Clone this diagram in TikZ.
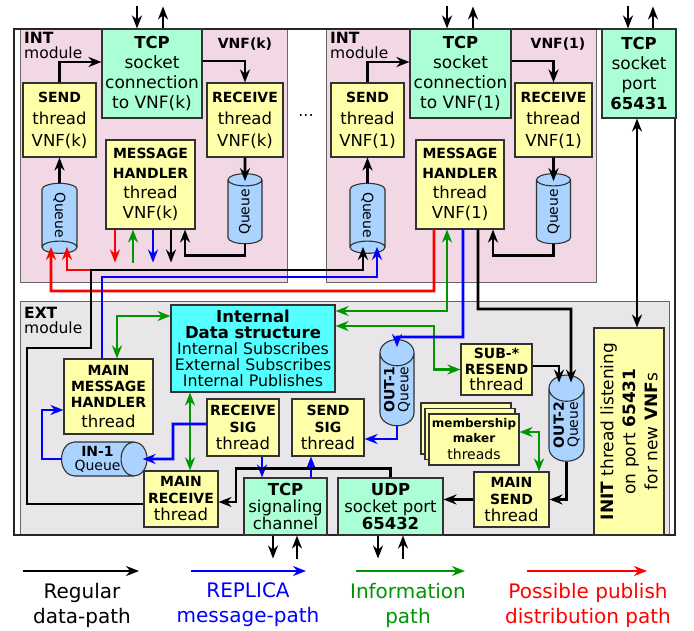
\documentclass[tikz,border=0pt]{standalone}
\usepackage{fontspec}
\setmainfont{DejaVu Sans}
\usetikzlibrary{positioning,arrows.meta,shapes.geometric,shadows,calc}
\definecolor{intbg}{RGB}{242,215,228}
\definecolor{extbg}{RGB}{232,230,232}
\definecolor{thrY}{RGB}{255,255,170}
\definecolor{sockG}{RGB}{170,255,213}
\definecolor{dataC}{RGB}{85,255,255}
\definecolor{queB}{RGB}{170,212,255}
\definecolor{infoG}{RGB}{0,150,0}
\definecolor{bord}{RGB}{50,50,50}
\newcommand{\thb}[1]{{\fontsize{14}{16}\selectfont\bfseries #1}}
\newcommand{\tbig}[1]{{\fontsize{16.5}{18}\selectfont\bfseries #1}}
\newcommand{\tsm}[1]{{\fontsize{12}{14}\selectfont\bfseries #1}}
\begin{document}
\begin{tikzpicture}[x=1pt,y=-1pt,>={Stealth[length=13pt,width=10pt]},
		box/.style={draw=bord,line width=1.1pt,align=center,inner sep=0pt},
		thr/.style={box,fill=thrY},
		sock/.style={box,fill=sockG},
		que/.style={box,shape=cylinder,fill=queB,font=\fontsize{14}{14}\selectfont},
		dat/.style={line width=2.6pt,->},
		rep/.style={dat,blue},
		inf/.style={dat,infoG},
		pub/.style={dat,red}]
			\useasboundingbox (0,0) rectangle (694,631);
			\filldraw[fill=intbg, draw=gray!80!black, line width=1pt] (20,29) rectangle (287,283);
			\filldraw[fill=intbg, draw=gray!80!black, line width=1pt] (326,29) rectangle (596,283);
			\filldraw[fill=extbg, draw=gray!80!black, line width=1pt] (20,302) rectangle (669,535);
			\draw[line width=1.4pt, black!85] (14,29) rectangle (675,535);
			\node[anchor=north west, align=left, inner sep=0pt, font=\fontsize{15.5}{15}\selectfont] (intK) at (24,32) {\textbf{INT}\\module};
			\node[anchor=north west, align=left, inner sep=0pt, font=\fontsize{15.5}{15}\selectfont] (int1) at (330,32) {\textbf{INT}\\module};
			\node[anchor=north west, align=left, inner sep=0pt, font=\fontsize{15.5}{15}\selectfont] (ext) at (24,307) {\textbf{EXT}\\module};
			\node[font=\fontsize{14}{16}\selectfont\bfseries] (vnfK) at (245,44) {VNF(k)};
			\node[font=\fontsize{14}{16}\selectfont\bfseries] (vnf1) at (558,44) {VNF(1)};
			\node[font=\fontsize{16}{16}\selectfont] (dots) at (306,116) {...};

			\node[sock, minimum width=100pt, minimum height=89pt, font=\fontsize{17}{20}\selectfont] (tcpK) at (152,73.5) {\tbig{TCP}\\socket\\connection\\to VNF(k)};
			\node[thr, minimum width=73pt, minimum height=74pt, font=\fontsize{16.5}{22}\selectfont] (sendK) at (59.5,120) {\thb{SEND}\\thread\\VNF(k)};
			\node[thr, minimum width=76pt, minimum height=74pt, font=\fontsize{16.5}{22}\selectfont] (recvK) at (245,120) {\thb{RECEIVE}\\thread\\VNF(k)};
			\node[thr, minimum width=89pt, minimum height=89pt, font=\fontsize{16.5}{20}\selectfont] (mhK) at (150.5,184.5) {\thb{MESSAGE}\\\thb{HANDLER}\\thread\\VNF(k)};
			\node[que, rotate=-90, minimum height=70pt, minimum width=35pt] (qSK) at (59.5,215) {Queue};
			\node[que, rotate=90, minimum height=70pt, minimum width=34pt] (qRK) at (245,212) {Queue};

			\node[sock, minimum width=101pt, minimum height=89pt, font=\fontsize{17}{20}\selectfont] (tcp1) at (460.5,73.5) {\tbig{TCP}\\socket\\connection\\to VNF(1)};
			\node[thr, minimum width=73pt, minimum height=74pt, font=\fontsize{16.5}{22}\selectfont] (send1) at (367.5,120) {\thb{SEND}\\thread\\VNF(1)};
			\node[thr, minimum width=77pt, minimum height=74pt, font=\fontsize{16.5}{22}\selectfont] (recv1) at (553.5,120) {\thb{RECEIVE}\\thread\\VNF(1)};
			\node[thr, minimum width=88pt, minimum height=89pt, font=\fontsize{16.5}{20}\selectfont] (mh1) at (460,184.5) {\thb{MESSAGE}\\\thb{HANDLER}\\thread\\VNF(1)};
			\node[que, rotate=-90, minimum height=70pt, minimum width=35pt] (qS1) at (367.5,215) {Queue};
			\node[que, rotate=90, minimum height=70pt, minimum width=34pt] (qR1) at (553.5,212) {Queue};

			\node[sock, minimum width=74pt, minimum height=89pt, font=\fontsize{17}{20}\selectfont] (port) at (639,73.5) {\tbig{TCP}\\socket\\port\\\tbig{65431}};

			\node[box, fill=dataC, minimum width=164pt, minimum height=87pt, font=\fontsize{15.8}{16}\selectfont] (ds) at (253,348.5) {\tbig{Internal}\\\tbig{Data structure}\\Internal Subscribes\\External Subscribes\\Internal Publishes};
			\node[thr, minimum width=89pt, minimum height=75pt, font=\fontsize{16.5}{16}\selectfont] (mmh) at (108.5,396.5) {\thb{MAIN}\\\thb{MESSAGE}\\\thb{HANDLER}\\[4pt]thread};
			\node[que, minimum height=79pt, minimum width=34pt] (in1) at (97.5,459) {\textbf{IN-1}\\Queue};
			\node[thr, minimum width=72pt, minimum height=57pt, font=\fontsize{16.5}{17}\selectfont] (rsig) at (243,427.5) {\thb{RECEIVE}\\\thb{SIG}\\thread};
			\node[thr, minimum width=72pt, minimum height=57pt, font=\fontsize{16.5}{17}\selectfont] (ssig) at (328,427.5) {\thb{SEND}\\\thb{SIG}\\thread};
			\node[thr, minimum width=74pt, minimum height=56pt, font=\fontsize{16.5}{17}\selectfont] (mrecv) at (181,499) {\thb{MAIN}\\\thb{RECEIVE}\\thread};
			\node[sock, minimum width=83pt, minimum height=57pt, font=\fontsize{16.5}{17}\selectfont] (tcps) at (285.5,506.5) {\tbig{TCP}\\signaling\\channel};
			\node[sock, minimum width=105pt, minimum height=57pt, font=\fontsize{16.5}{17}\selectfont] (udp) at (390.5,506.5) {\tbig{UDP}\\socket port\\\tbig{65432}};
			\node[thr, minimum width=75pt, minimum height=55pt, font=\fontsize{16.5}{17}\selectfont] (msend) at (511.5,499.5) {\thb{MAIN}\\\thb{SEND}\\thread};
			\node[que, rotate=90, minimum height=77pt, minimum width=34pt] (out1) at (397,389.5) {\textbf{OUT-1}\\Queue};
			\node[que, rotate=90, minimum height=76pt, minimum width=35pt] (out2) at (566.5,425) {\textbf{OUT-2}\\Queue};
			\node[thr, minimum width=71pt, minimum height=51pt, font=\fontsize{16.5}{16}\selectfont] (sub) at (496.5,369.5) {\thb{SUB-*}\\\thb{RESEND}\\thread};
			\node[thr, double copy shadow={shadow xshift=-4pt, shadow yshift=5.5pt}, minimum width=90pt, minimum height=51pt, font=\fontsize{14}{15}\selectfont] (mm) at (474,439.5) {\tsm{membership}\\\tsm{maker}\\[2pt]threads};
			\node[thr, rotate=90, minimum width=207pt, minimum height=70pt, font=\fontsize{17}{22}\selectfont] (init) at (629,431.5) {\textbf{INIT} thread listening\\on port \textbf{65431}\\for new \textbf{VNF}s};

			\draw[dat] (sendK.north) |- ([yshift=11.5pt]tcpK.west);
			\draw[dat] ([yshift=12.5pt]tcpK.east) -| (recvK.north);
			\draw[dat] (recvK.south) -- ([yshift=-8pt]qRK.east);
			\draw[dat] (qSK.west) -- (sendK.south);
			\draw[dat] (qRK.west) -- ++(0,11) -| ([xshift=34.5pt]mhK.south);
			\draw[pub] ([xshift=-35.5pt]mhK.south) -- ++(0,33);
			\draw[inf,<-] ([xshift=-17.5pt]mhK.south) -- ++(0,33);
			\draw[rep] ([xshift=2.5pt]mhK.south) -- ++(0,33);
			\draw[dat] ([xshift=20.5pt]mhK.south) -- ++(0,33);

			\draw[dat] (send1.north) |- ([yshift=11.5pt]tcp1.west);
			\draw[dat] ([yshift=12.5pt]tcp1.east) -| (recv1.north);
			\draw[dat] (recv1.south) -- ([yshift=-8pt]qR1.east);
			\draw[dat] (qS1.west) -- (send1.south);
			\draw[dat] (qR1.west) -- ++(0,11) -| ([xshift=33pt]mh1.south);

			\coordinate (jn) at (91,270);
			\draw[pub] ([xshift=-26pt]mh1.south) |- (51,291) -- ([xshift=-8.5pt,yshift=7pt]qSK.east);
			\draw[pub] (jn) -| ([xshift=7.5pt,yshift=7pt]qSK.east);
			\draw[dat] ([yshift=-5pt]mrecv.west) -| (27,348) -| (jn) -| ([xshift=-4.5pt,yshift=7pt]qS1.east);
			\draw[rep] ([xshift=-6.5pt]mmh.north) -- (102,277) -| ([xshift=9.5pt,yshift=7pt]qS1.east);
			\draw[inf,<->] ([yshift=37.5pt]ds.east) -| ([xshift=-13pt]mh1.south);
			\draw[inf,<->] ([yshift=22.5pt]ds.east) -- (434,326) |- (sub.west);
			\draw[rep] ([xshift=3pt]mh1.south) |- (397,337) -- ([yshift=-8pt]out1.east);
			\draw[dat] ([xshift=18pt]mh1.south) |- (571,309) -- ([xshift=4.5pt,yshift=-8pt]out2.east);
			\draw[dat] ([yshift=3.5pt]sub.east) -| ([xshift=-7.5pt,yshift=-8pt]out2.east);
			\draw[dat,<->] ([xshift=-2pt]port.south) -- ([xshift=-2pt]port.south |- init.east);

			\draw[inf,<->] ([xshift=8.5pt]mmh.north) |- ([yshift=32.5pt]ds.west);
			\draw[inf,<->] ([xshift=9pt]mrecv.north) -- ([xshift=9pt]mrecv.north |- ds.south);
			\draw[inf,<->] ([yshift=7.5pt]mm.east) -| ([xshift=27.5pt]msend.north);
			\draw[rep] ([yshift=3.5pt]rsig.west) -| (173,459) -- ([xshift=-5pt]in1.east);
			\draw[rep] (in1.west) -| (42,410) -- ([yshift=-13.5pt]mmh.west);
			\draw[rep] ([xshift=19pt]rsig.south) -- ([xshift=19pt]rsig.south |- tcps.north);
			\draw[rep] ([xshift=25.5pt]tcps.north) -- ([xshift=25.5pt]tcps.north |- ssig.south);
			\draw[rep] (out1.west) |- ([yshift=-11.5pt]ssig.east);
			\draw[dat] (udp.north) -- ++(0,-9) -| (236,502) -- ([yshift=-3pt]mrecv.east);
			\draw[dat] (out2.west) |- (msend.east);
			\draw[dat] (msend.west) -- (msend.west -| udp.east);

			\draw[dat,<-] ([xshift=-15pt]tcpK.north) -- ++(0,-22);
			\draw[dat] ([xshift=11pt]tcpK.north) -- ++(0,-22);
			\draw[dat,<-] ([xshift=-13.5pt]tcp1.north) -- ++(0,-22);
			\draw[dat] ([xshift=12.5pt]tcp1.north) -- ++(0,-22);
			\draw[dat,<-] ([xshift=-11pt]port.north) -- ++(0,-22);
			\draw[dat] ([xshift=14pt]port.north) -- ++(0,-22);
			\draw[dat] ([xshift=-12.5pt]tcps.south) -- ++(0,23);
			\draw[dat,<-] ([xshift=11.5pt]tcps.south) -- ++(0,23);
			\draw[dat] ([xshift=-12.5pt]udp.south) -- ++(0,23);
			\draw[dat,<-] ([xshift=12.5pt]udp.south) -- ++(0,23);

			\foreach \xa/\xb/\xt/\col/\txt in {23/139/82/black/{Regular\\data-path}, 191/306/248/blue/{REPLICA\\message-path}, 356/465/408/infoG/{Information\\path}, 527/647/588/red/{Possible publish\\distribution path}} {
				\coordinate (lgA\col) at (\xa,571);
				\coordinate (lgB\col) at (\xb,571);
				\draw[dat,\col] (lgA\col) -- (lgB\col);
				\node[text=\col, align=center, font=\fontsize{20}{25}\selectfont] (lg\col) at (\xt,605) {\txt};
			}
	\end{tikzpicture}
\end{document}
